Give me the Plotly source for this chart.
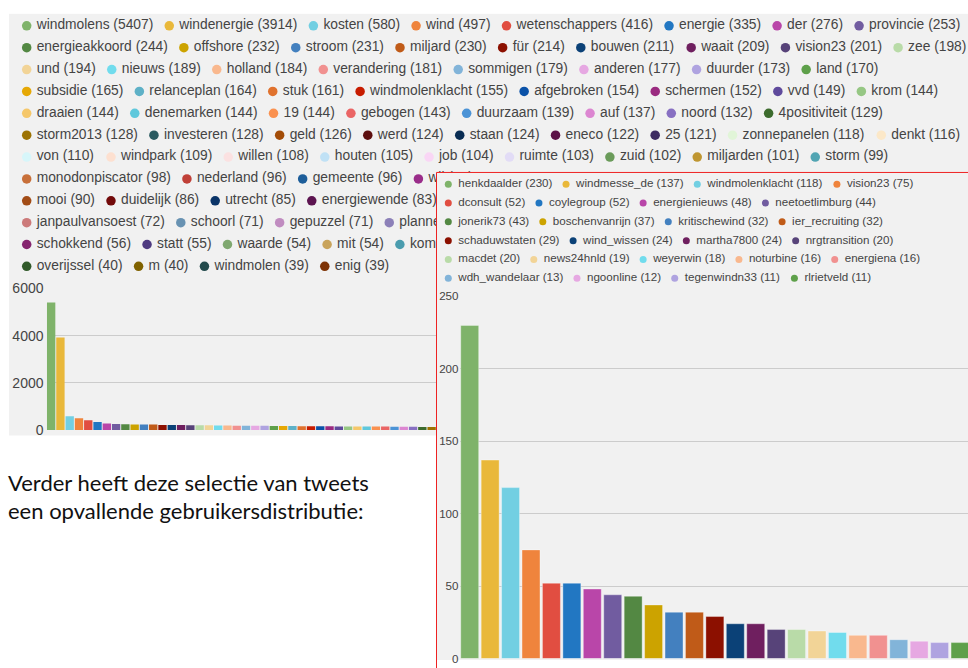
import plotly.graph_objects as go

W, H = 968, 668

# ---------------- data ----------------
word_labels = [
    "windmolens", "windenergie", "kosten", "wind", "wetenschappers", "energie", "der", "provincie",
    "energieakkoord", "offshore", "stroom", "miljard", "für", "bouwen", "waait", "vision23", "zee",
    "und", "nieuws", "holland", "verandering", "sommigen", "anderen", "duurder", "land",
    "subsidie", "relanceplan", "stuk", "windmolenklacht", "afgebroken", "schermen", "vvd", "krom",
    "draaien", "denemarken", "19", "gebogen", "duurzaam", "auf", "noord", "4positiviteit",
    "storm2013", "investeren", "geld", "werd", "staan", "eneco", "25", "zonnepanelen", "denkt",
    "von", "windpark", "willen", "houten", "job", "ruimte", "zuid", "miljarden", "storm",
    "monodonpiscator", "nederland", "gemeente", "wij",
    "mooi", "duidelijk", "utrecht", "energiewende",
    "janpaulvansoest", "schoorl", "gepuzzel", "plannen",
    "schokkend", "statt", "waarde", "mit", "komt",
    "overijssel", "m", "windmolen", "enig",
]
word_counts = [
    5407, 3914, 580, 497, 416, 335, 276, 253,
    244, 232, 231, 230, 214, 211, 209, 201, 198,
    194, 189, 184, 181, 179, 177, 173, 170,
    165, 164, 161, 155, 154, 152, 149, 144,
    144, 144, 144, 143, 139, 137, 132, 129,
    128, 128, 126, 124, 124, 122, 121, 118, 116,
    110, 109, 108, 105, 104, 103, 102, 101, 99,
    98, 96, 96, 93,
    90, 86, 85, 83,
    72, 71, 71, 70,
    56, 55, 54, 54, 53,
    40, 40, 39, 39,
]
word_ticks = [0, 2000, 4000, 6000]

user_labels = [
    "henkdaalder", "windmesse_de", "windmolenklacht", "vision23",
    "dconsult", "coylegroup", "energienieuws", "neetoetlimburg",
    "jonerik73", "boschenvanrijn", "kritischewind", "ier_recruiting",
    "schaduwstaten", "wind_wissen", "martha7800", "nrgtransition",
    "macdet", "news24hnld", "weyerwin", "noturbine", "energiena",
    "wdh_wandelaar", "ngoonline", "tegenwindn33", "rlrietveld",
]
user_counts = [230, 137, 118, 75, 52, 52, 48, 44, 43, 37, 32, 32, 29, 24, 24, 20,
               20, 19, 18, 16, 16, 13, 12, 11, 11]
user_ticks = [0, 50, 100, 150, 200, 250]

intro_lines = ["Verder heeft deze selectie van tweets",
               "een opvallende gebruikersdistributie:"]

# ---------------- styles ----------------
WORD_COLORS = [
    "#7fb36a", "#e9b83a", "#72cfe2", "#ef843d", "#e14e41", "#2277c2", "#b946a9", "#715ca0",
    "#538843", "#cca300", "#4380bf", "#c05b18", "#8c1000", "#0b4177", "#6f1f5f", "#574379", "#b9dba8",
    "#f2d497", "#71dced", "#f9b88e", "#f19190", "#82b4d9", "#e6a8e2", "#afa3e0", "#5ea04a",
    "#e6a805", "#5eb1c7", "#e0722e", "#c71c00", "#0b52a8", "#9a2a80", "#5f4a9c", "#96c784",
    "#f5c76a", "#5fc8dc", "#fa9150", "#ea6565", "#4b93d6", "#dc86d1", "#8870c2", "#3c6b2d",
    "#9c7202", "#2a5a60", "#a34c07", "#5d0f0f", "#092d54", "#5c1248", "#3e2b62", "#e1f5d8", "#fce8c8",
    "#d7f6fa", "#fde0d0", "#fbe1e1", "#c0e1f5", "#f9d6f5", "#e2dcf6", "#6a9b5a", "#bf9631", "#52a5b3",
    "#c8703a", "#c04038", "#1d5e9a", "#9a2d8a",
    "#a24c16", "#720a0a", "#0a3468", "#5c1450",
    "#cc7a7a", "#6892b2", "#c08cc0", "#8c80b8",
    "#85246f", "#4e3a80", "#7fa870", "#c9a45c", "#4a9cae",
    "#315a2a", "#806200", "#234a4c", "#7e3306",
]
USER_COLORS = WORD_COLORS[:25]
LEFT_ROWS = [8, 9, 8, 8, 8, 9, 9, 4, 4, 4, 5, 4]
RIGHT_ROWS = [4, 4, 4, 4, 5, 4]

PANEL = "#f1f1f1"
GRID = "#cccccc"
TXT = "#444444"
FONT = "Liberation Sans, Arial, sans-serif"
LEFT_FS = 13.8
RIGHT_FS = 11.6

AW = {c: 0.556 for c in "abdeghnopqu0123456789_ü"}
AW.update({"c": 0.5, "k": 0.5, "s": 0.5, "v": 0.5, "x": 0.5, "y": 0.5, "z": 0.5,
           "f": 0.278, "t": 0.278, "i": 0.222, "j": 0.222, "l": 0.222, "r": 0.333,
           "m": 0.833, "w": 0.722, " ": 0.278, "(": 0.333, ")": 0.333})


def tw(s, size):
    return sum(AW.get(c, 0.556) for c in s) * size


def legend_items(labels, counts, rows, x0, y0, dy, size, dot_gap, item_gap):
    xd, yd, xt, tt = [], [], [], []
    i = 0
    for r, n in enumerate(rows):
        x = x0
        y = y0 + r * dy
        for _ in range(n):
            t = f"{labels[i]} ({counts[i]})"
            xd.append(x); yd.append(y); xt.append(x + dot_gap); tt.append(t)
            x += dot_gap + tw(t, size) + item_gap
            i += 1
    return xd, yd, xt, tt


def dx(a, b):
    return [a / W, min(b / W, 1)]


def dy_(top, bottom):
    return [max(1 - bottom / H, 0), 1 - top / H]


fig = go.Figure()

# --- left panel legend (subplot 1) ---
lxd, lyd, lxt, ltt = legend_items(word_labels, word_counts, LEFT_ROWS,
                                  26.7, 18.3, 22.4, LEFT_FS, 10, 16.0)
fig.add_trace(go.Scatter(x=lxd, y=lyd, mode="markers", xaxis="x", yaxis="y",
                         marker=dict(size=9.5, color=WORD_COLORS[:len(lxd)]),
                         hoverinfo="skip", showlegend=False))
fig.add_trace(go.Scatter(x=lxt, y=lyd, mode="text", text=ltt, textposition="middle right",
                         textfont=dict(size=LEFT_FS, color=TXT, family=FONT), xaxis="x", yaxis="y",
                         hoverinfo="skip", showlegend=False))

# --- left bar chart (subplot 2) ---
fig.add_trace(go.Bar(x=list(range(len(word_counts))), y=word_counts, width=0.9,
                     marker=dict(color=WORD_COLORS, line=dict(width=0)),
                     xaxis="x2", yaxis="y2", showlegend=False))

# --- right panel legend (subplot 3) ---
rxd, ryd, rxt, rtt = legend_items(user_labels, user_counts, RIGHT_ROWS,
                                  448.3, 180.5, 19.3, RIGHT_FS, 10, 13.6)
fig.add_trace(go.Scatter(x=rxd, y=ryd, mode="markers", xaxis="x3", yaxis="y3",
                         marker=dict(size=7, color=USER_COLORS),
                         hoverinfo="skip", showlegend=False))
fig.add_trace(go.Scatter(x=rxt, y=ryd, mode="text", text=rtt, textposition="middle right",
                         textfont=dict(size=RIGHT_FS, color=TXT, family=FONT), xaxis="x3", yaxis="y3",
                         hoverinfo="skip", showlegend=False))

# --- right bar chart (subplot 4) ---
fig.add_trace(go.Bar(x=list(range(len(user_counts))), y=user_counts, width=0.88,
                     marker=dict(color=USER_COLORS, line=dict(width=1, color="rgba(255,255,255,0.35)")),
                     xaxis="x4", yaxis="y4", showlegend=False))

hidden = dict(visible=False, fixedrange=True, showgrid=False, zeroline=False)

L_PITCH = 9.28
R_PITCH = 20.43
LB_X0, LB_TOP, LB_BOT = 46.5, 287.3, 432.3
RB_X0, RB_TOP, RB_BOT = 459.5, 295.5, 666.5

intro_font = dict(family="Lato, Carlito, sans-serif", size=22, color="#111111")
annotations = [
    dict(text=line, x=6 / W, y=1 - (486 + 29 * k) / H, xref="paper", yref="paper",
         xanchor="left", yanchor="middle", showarrow=False, font=intro_font)
    for k, line in enumerate(intro_lines)
]

fig.update_layout(
    width=W, height=H,
    margin=dict(l=0, r=0, t=0, b=0, pad=0),
    paper_bgcolor="white", plot_bgcolor=PANEL,
    font=dict(family=FONT, color=TXT),
    showlegend=False,
    xaxis=dict(domain=dx(9, 968), range=[9, 968], anchor="y", **hidden),
    yaxis=dict(domain=dy_(6, 438), range=[438, 6], anchor="x", **hidden),
    xaxis2=dict(domain=dx(LB_X0, 968), range=[-0.5, -0.5 + (968 - LB_X0) / L_PITCH],
                anchor="y2", **hidden),
    yaxis2=dict(domain=dy_(LB_TOP, LB_BOT), range=[0, 6000], anchor="x2",
                tickvals=word_ticks, showgrid=True, gridcolor=GRID, gridwidth=1,
                zeroline=False, showline=False, ticks="", fixedrange=True,
                ticklabelstandoff=2,
                tickfont=dict(size=14, color=TXT, family=FONT)),
    xaxis3=dict(domain=dx(436, 968), range=[436, 968], anchor="y3", **hidden),
    yaxis3=dict(domain=dy_(168, 668), range=[668, 168], anchor="x3", **hidden),
    xaxis4=dict(domain=dx(RB_X0, 968), range=[-0.5, -0.5 + (968 - RB_X0) / R_PITCH],
                anchor="y4", **hidden),
    yaxis4=dict(domain=dy_(RB_TOP, RB_BOT), range=[0, 250], anchor="x4",
                tickvals=user_ticks, showgrid=True, gridcolor=GRID, gridwidth=1,
                zeroline=False, showline=False, ticks="", fixedrange=True,
                tickfont=dict(size=RIGHT_FS, color=TXT, family=FONT)),
    shapes=[dict(type="rect", xref="paper", yref="paper",
                 x0=436.5 / W, x1=1.02, y0=-0.02, y1=1 - 168.5 / H,
                 line=dict(color="#ee2222", width=1), fillcolor="rgba(0,0,0,0)", layer="above")],
    annotations=annotations,
)

fig.write_html("out.html", config={"displayModeBar": False})
